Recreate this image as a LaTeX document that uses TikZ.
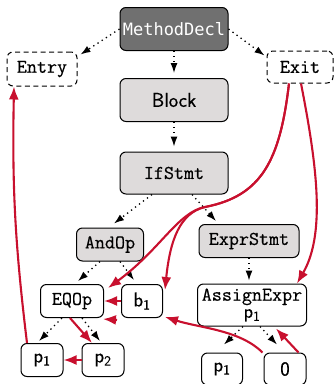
\documentclass[tikz,border=0pt]{standalone}
\usepackage{fontspec}
\newfontfamily\rootfont{DejaVu Sans Mono}
\newfontfamily\codefont{Latin Modern Mono}[FakeBold=0.6]
\newfontfamily\varfont{Latin Modern Sans}[FakeBold=0.4]
\usetikzlibrary{arrows.meta}
\definecolor{flowred}{RGB}{200,16,46}
\definecolor{astgray}{RGB}{222,219,219}
\definecolor{rootgray}{RGB}{112,112,112}

\begin{document}
\begin{tikzpicture}[x=1pt,y=-1pt,
  box/.style={draw=black, line width=1pt, rounded corners=6pt, inner sep=0pt,
    align=center, font=\fontsize{19.5}{19}\selectfont\codefont},
  astbox/.style={box, fill=astgray},
  rootbox/.style={box, fill=rootgray, text=white, font=\fontsize{17}{17}\selectfont\rootfont},
  cfgbox/.style={box, fill=white, dash pattern=on 5pt off 3.5pt},
  plainbox/.style={box, fill=white},
  leafbox/.style={box, fill=white, font=\fontsize{20}{20}\selectfont\varfont},
  astedge/.style={line width=1.3pt, dash pattern=on 1.3pt off 3.7pt,
    -{Latex[length=10pt,width=7pt]}},
  flow/.style={draw=flowred, line width=2.1pt, -{Latex[length=13pt,width=10pt]}},
]
\useasboundingbox (0,0) rectangle (335,384);

% syntax tree nodes
\node[rootbox, minimum width=108, minimum height=43] (md) at (174,29) {MethodDecl};
\node[cfgbox, minimum width=70, minimum height=34] (entry) at (42,69) {Entry};
\node[cfgbox, minimum width=66, minimum height=32] (exit) at (300,67) {Exit};
\node[astbox, minimum width=108, minimum height=43, font=\fontsize{20}{20}\selectfont\varfont] (block) at (174,100) {Block};
\node[astbox, minimum width=108, minimum height=42] (ifs) at (174,173) {IfStmt};
\node[astbox, minimum width=67, minimum height=33] (andop) at (110,244.5) {AndOp};
\node[astbox, minimum width=100, minimum height=33] (exs) at (249,241) {ExprStmt};
\node[plainbox, minimum width=63, minimum height=33] (eqop) at (72,301) {EQOp};
\node[leafbox, minimum width=41, minimum height=33] (b1) at (142,301) {b\textsubscript{1}};
\node[plainbox, minimum width=109, minimum height=42] (assign) at (252,305)
  {AssignExpr\\[-2pt]{\varfont p\textsubscript{1}}};
\node[leafbox, minimum width=42, minimum height=33] (p1l) at (42,360) {p\textsubscript{1}};
\node[leafbox, minimum width=42, minimum height=33] (p2) at (103,360) {p\textsubscript{2}};
\node[leafbox, minimum width=41, minimum height=32] (p1r) at (222,369) {p\textsubscript{1}};
\node[leafbox, minimum width=42, minimum height=32] (zero) at (285,369) {0};

% tree edges
\draw[astedge] (md.west) -- ([xshift=3pt,yshift=-3pt]entry.north east);
\draw[astedge, shorten >=5pt] (md.south) -- (block.north);
\draw[astedge] (md.east) -- ([xshift=-2pt,yshift=-5pt]exit.north west);
\draw[astedge, shorten >=5pt] (block.south) -- (ifs.north);
\draw[astedge] ([xshift=-22pt]ifs.south) -- ([xshift=4pt,yshift=4pt]andop.north);
\draw[astedge] ([xshift=18pt]ifs.south) -- ([xshift=-33pt,yshift=3pt]exs.north);
\draw[astedge] ([xshift=-10pt]andop.south) -- ([xshift=6pt,yshift=3pt]eqop.north);
\draw[astedge] ([xshift=10pt]andop.south) -- ([xshift=-8pt,yshift=4pt]b1.north);
\draw[astedge, shorten >=3pt] (exs.south) -- (exs.south |- assign.north);
\draw[astedge] ([xshift=-10pt]eqop.south) -- ([xshift=-3pt,yshift=2pt]p1l.north);
\draw[astedge] ([xshift=10pt]eqop.south) -- ([xshift=-3pt,yshift=2pt]p2.north);
\draw[astedge] ([xshift=-9pt]assign.south) -- ([xshift=2pt,yshift=8pt]p1r.north);
\draw[astedge] ([xshift=8pt]assign.south) -- ([xshift=-8pt,yshift=8pt]zero.north);

% control flow edges
\draw[flow] ([xshift=-15pt]p1l.north) to[bend left=4] ([xshift=-28pt]entry.south);
\draw[flow] ([xshift=-11pt]exit.south) .. controls (280,160) and (262,196) .. (205,207)
  .. controls (178,212) and (160,250) .. ([xshift=4pt,yshift=-4pt]eqop.north east);
\draw[flow] ([xshift=-11pt]exit.south) .. controls (280,160) and (262,196) .. (205,207)
  .. controls (180,213) and (170,240) .. ([xshift=2pt,yshift=-6pt]b1.north east);
\draw[flow] ([xshift=1pt]exit.south) .. controls (318,170) and (325,235) .. ([xshift=-10pt]assign.north east);
\draw[flow] (b1.west) -- (eqop.east);
\draw[flow] ([xshift=-4pt,yshift=-2pt]b1.south west) -- ([xshift=-1pt,yshift=-1pt]eqop.south east);
\draw[flow] ([xshift=-2pt]eqop.south) -- ([xshift=-11pt]p2.north);
\draw[flow] (p2.west) -- (p1l.east);
\draw[flow] ([xshift=-1pt]zero.north west) .. controls (240,330) and (200,328) .. ([xshift=2pt,yshift=1pt]b1.south east);
\draw[flow] ([xshift=-8pt]zero.north east) -- ([xshift=24pt,yshift=-2pt]assign.south);
\end{tikzpicture}
\end{document}
